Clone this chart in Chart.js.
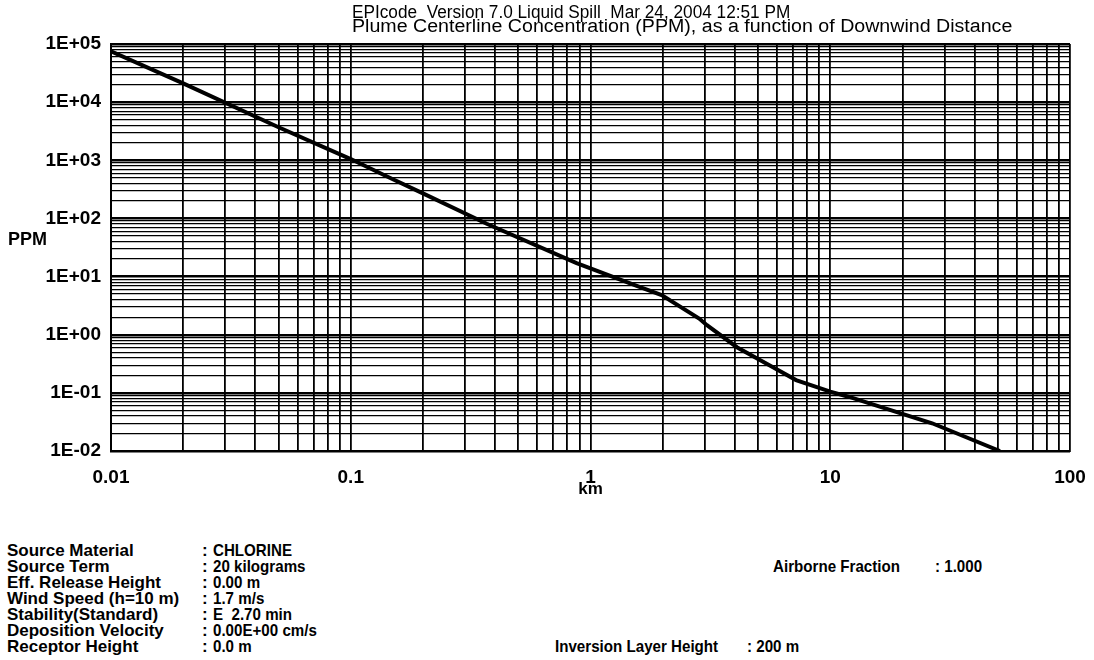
<!DOCTYPE html>
<html lang="en">
<head>
    <meta charset="UTF-8">
    <title>EPIcode - Plume Centerline Concentration</title>
    <script src="https://cdn.jsdelivr.net/npm/chart.js@4.4.1/dist/chart.umd.min.js"></script>
    <style>
        html, body { margin: 0; padding: 0; background: #fff; }
        body { width: 1094px; height: 660px; position: relative; overflow: hidden;
               font-family: "Liberation Sans", Arial, sans-serif; color: #000; }
        #wrap { position: absolute; left: 0; top: 0; width: 1094px; height: 500px; }
        .title { position: absolute; left: 352px; font-size: 18px; line-height: 18px;
                 white-space: nowrap; transform-origin: 0 0; }
        .ylab { position: absolute; left: 8px; top: 229px; font-size: 18px; font-weight: bold; }
        .info { position: absolute; font-size: 17px; line-height: 16px; font-weight: bold;
                white-space: pre; transform-origin: 0 0; }
        .narrow { transform: scaleX(0.89); }
    </style>
</head>
<body>

<div id="wrap"><canvas id="myChart"></canvas></div>

<div class="title" id="t1" style="top:3px">EPIcode&nbsp; Version 7.0 Liquid Spill&nbsp; Mar 24, 2004 12:51 PM</div>
<div class="title" id="t2" style="top:17px">Plume Centerline Concentration (PPM), as a function of Downwind Distance</div>
<div class="ylab">PPM</div>

<div id="info"></div>

<script>
    // downwind distance (km) and centerline concentration (PPM)
    var distanceKm = [0.01, 0.02, 0.05, 0.1, 0.141, 0.2, 0.369, 0.875, 1.61, 1.98, 2.84, 3.06, 4.08, 5.77, 7.2, 10, 12, 26.6, 51];
    var concPpm    = [75000, 21000, 3700, 1050, 530, 270, 81, 17, 6.6, 4.8, 1.9, 1.46, 0.61, 0.275, 0.166, 0.105, 0.085, 0.030, 0.010];

    var xTickLabels = ['0.01', '0.1', '1', '10', '100'];
    var yTickLabels = ['1E-02', '1E-01', '1E+00', '1E+01', '1E+02', '1E+03', '1E+04', '1E+05'];

    // info block under the chart: [label, value]
    var leftInfo = [
        ['Source Material', 'CHLORINE'],
        ['Source Term', '20 kilograms'],
        ['Eff. Release Height', '0.00 m'],
        ['Wind Speed (h=10 m)', '1.7 m/s'],
        ['Stability(Standard)', 'E  2.70 min'],
        ['Deposition Velocity', '0.00E+00 cm/s'],
        ['Receptor Height', '0.0 m']
    ];
    var airborne = ['Airborne Fraction', '1.000'];
    var inversion = ['Inversion Layer Height', ' 200 m'];

    // every 1..9 x 10^n between the first and last labelled decade
    function logGrid(labels) {
        var first = Math.round(Math.log10(parseFloat(labels[0])));
        var out = [];
        for (var e = first; e < first + labels.length - 1; e++) {
            for (var m = 1; m < 10; m++) {
                out.push({ value: parseFloat((m * Math.pow(10, e)).toPrecision(3)) });
            }
        }
        out.push({ value: parseFloat(labels[labels.length - 1]) });
        return out;
    }

    function decadeLabel(labels, v) {
        var first = Math.round(Math.log10(parseFloat(labels[0])));
        var lg = Math.log10(v);
        if (Math.abs(lg - Math.round(lg)) > 1e-6) return '';
        return labels[Math.round(lg) - first];
    }

    function isDecade(v) {
        var lg = Math.log10(v);
        return Math.abs(lg - Math.round(lg)) < 1e-6;
    }

    var points = [];
    for (var i = 0; i < distanceKm.length; i++) {
        points.push({ x: distanceKm[i], y: concPpm[i] });
    }

    var tickFont = { family: 'Liberation Sans', size: 19, weight: 'bold' };

    var ctx = document.getElementById('myChart').getContext('2d');
    var chart = new Chart(ctx, {
        type: 'line',
        data: {
            datasets: [{
                data: points,
                borderColor: '#000',
                borderWidth: 4,
                pointRadius: 0,
                tension: 0,
                fill: false
            }]
        },
        options: {
            responsive: true,
            maintainAspectRatio: false,
            animation: false,
            layout: { padding: { top: 44, right: 24, left: 0, bottom: 0 } },
            plugins: { legend: { display: false }, tooltip: { enabled: false } },
            scales: {
                x: {
                    type: 'logarithmic',
                    min: 0.01,
                    max: 100,
                    afterBuildTicks: function (scale) { scale.ticks = logGrid(xTickLabels); },
                    afterFit: function (scale) {
                        scale.height = 49;
                        scale.paddingLeft = 0;
                        scale.paddingRight = 0;
                    },
                    ticks: {
                        autoSkip: false, maxRotation: 0, minRotation: 0,
                        padding: 15, color: '#000', font: tickFont,
                        callback: function (v) { return decadeLabel(xTickLabels, v); }
                    },
                    grid: { color: '#000', lineWidth: 1.8, drawTicks: false },
                    border: { color: '#000', width: 2 },
                    title: {
                        display: true, text: 'km', color: '#000',
                        font: { family: 'Liberation Sans', size: 17, weight: 'bold' },
                        padding: { top: 0, bottom: 0 }
                    }
                },
                y: {
                    type: 'logarithmic',
                    min: 0.01,
                    max: 100000,
                    afterBuildTicks: function (scale) { scale.ticks = logGrid(yTickLabels); },
                    afterFit: function (scale) { scale.width = 111; },
                    ticks: {
                        autoSkip: false, padding: 10, color: '#000', font: tickFont,
                        callback: function (v) { return decadeLabel(yTickLabels, v); }
                    },
                    grid: {
                        color: '#000', drawTicks: false,
                        lineWidth: function (c) { return c.tick && isDecade(c.tick.value) ? 2.4 : 1.2; }
                    },
                    border: { color: '#000', width: 2 }
                }
            }
        }
    });

    // info block
    function addText(txt, x, y, narrow) {
        var d = document.createElement('div');
        d.className = narrow ? 'info narrow' : 'info';
        d.style.left = x + 'px';
        d.style.top = y + 'px';
        d.textContent = txt;
        document.getElementById('info').appendChild(d);
    }
    for (var r = 0; r < leftInfo.length; r++) {
        addText(leftInfo[r][0], 7, 543 + r * 16, false);
        addText(':', 202, 543 + r * 16, false);
        addText(leftInfo[r][1], 213, 543 + r * 16, true);
    }
    addText(airborne[0], 773, 559, true);
    addText(': ' + airborne[1], 935, 559, true);
    addText(inversion[0], 555, 639, true);
    addText(':' + inversion[1], 747, 639, true);

    // squeeze the title lines to the width they have in the printout
    function fitWidth(id, w) {
        var el = document.getElementById(id);
        el.style.transform = 'scaleX(' + (w / el.offsetWidth) + ')';
    }
    fitWidth('t1', 438);
    fitWidth('t2', 660);
</script>

</body>
</html>
